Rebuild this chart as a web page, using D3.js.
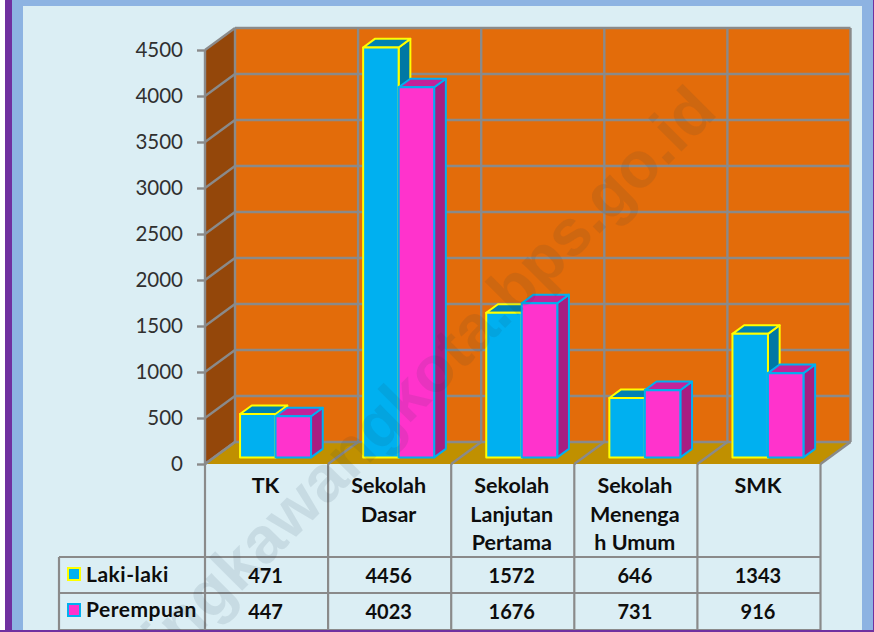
<!DOCTYPE html>
<html><head><meta charset="utf-8">
<style>html,body{margin:0;padding:0;background:#fff}svg{display:block}</style>
<script src="https://cdn.jsdelivr.net/npm/d3@7"></script>
</head><body>
<script>
const categories = ["TK", "Sekolah Dasar", "Sekolah Lanjutan Pertama", "Sekolah Menengah Umum", "SMK"];
const categoryLines = [["TK"], ["Sekolah", "Dasar"], ["Sekolah", "Lanjutan", "Pertama"], ["Sekolah", "Menenga", "h Umum"], ["SMK"]];
const seriesNames = ["Laki-laki", "Perempuan"];
const lakiLaki = [471, 4456, 1572, 646, 1343];
const perempuan = [447, 4023, 1676, 731, 916];
const yTicks = [0, 500, 1000, 1500, 2000, 2500, 3000, 3500, 4000, 4500];
const watermark = "singkawangkota.bps.go.id";

const W = 874, H = 632;
const frontL = 205, frontR = 820.5, base = 464, top45 = 50;
const depthX = 30, depthY = 22;
const GRID = "#8a8a8a", FONT = "Lato, Carlito, sans-serif";

const svg = d3.select("body").append("svg").attr("width", W).attr("height", H);

// frame
svg.append("rect").attr("width", W).attr("height", H).attr("fill", "#7030A0");
svg.append("rect").attr("x", 12).attr("y", 0).attr("width", 861).attr("height", 630).attr("fill", "#8DB3E2");
svg.append("rect").attr("x", 23).attr("y", 6).attr("width", 839).attr("height", 624).attr("fill", "#DBEEF4");
svg.append("rect").attr("x", 0).attr("y", 0).attr("width", 5).attr("height", H).attr("fill", "#fff");

const x = d3.scaleBand().domain(categories).range([frontL, frontR]);
const inner = d3.scaleBand().domain(seriesNames).range([0, 71]);
const y = d3.scaleLinear().domain([0, 4500]).range([base, top45]);
const P = (px, v, z) => [px + depthX * z, y(v) - depthY * z];
const poly = pts => d3.line()(pts) + "Z";

const plot = svg.append("g");
const yMax = 4500;
// walls
plot.append("path").attr("d", poly([P(frontL,0,0),P(frontL,yMax,0),P(frontL,yMax,1),P(frontL,0,1)])).attr("fill", "#94470A");
plot.append("path").attr("d", poly([P(frontL,0,1),P(frontL,yMax,1),P(frontR,yMax,1),P(frontR,0,1)])).attr("fill", "#E36C0A");
plot.append("path").attr("d", poly([P(frontL,0,0),P(frontL,0,1),P(frontR,0,1),P(frontR,0,0)])).attr("fill", "#C09000");

// gridlines
const gl = (a, b, w) => plot.append("path").attr("d", d3.line()([a, b])).attr("stroke", GRID).attr("stroke-width", w || 2.4).attr("fill", "none");
yTicks.forEach(t => {
  gl(P(frontL,t,0), P(frontL,t,1));
  gl(P(frontL,t,1), P(frontR,t,1));
});
const bounds = categories.map(c => x(c)).concat([frontR]);
bounds.forEach(b => {
  gl(P(b,0,0), P(b,0,1));
  gl(P(b,0,1), P(b,yMax,1));
});
gl(P(frontL,0,0), P(frontL,yMax,0));

// y axis
const axis = d3.axisLeft(y).tickValues(yTicks).tickSize(8).tickPadding(14).tickFormat(d3.format("d"));
const ag = svg.append("g").attr("transform", `translate(${frontL},0)`).call(axis);
ag.select(".domain").remove();
ag.selectAll("line").attr("stroke", GRID).attr("stroke-width", 2.4);
ag.selectAll("text").attr("font-family", FONT).attr("font-size", 20.5).attr("fill", "#303030");

// bars
const styles = [
  {front: "#00B0F0", side: "#0078A4", top: "#0082B2", stroke: "#FFFF00"},
  {front: "#FF33CC", side: "#A71E82", top: "#C2239A", stroke: "#00B0F0"}
];
const z0 = 0.3, z1 = 0.69;
const seriesValues = [lakiLaki, perempuan];
categories.forEach((c, ci) => {
  const gap = (x.bandwidth() - inner.range()[1]) / 2;
  seriesNames.forEach((s, si) => {
    const v = seriesValues[si][ci], st = styles[si];
    const l = x(c) + gap + inner(s), r = l + inner.bandwidth();
    const g = plot.append("g").attr("stroke", st.stroke).attr("stroke-width", 2).attr("stroke-linejoin", "round");
    g.append("path").attr("d", poly([P(r,0,z0),P(r,v,z0),P(r,v,z1),P(r,0,z1)])).attr("fill", st.side);
    g.append("path").attr("d", poly([P(l,v,z0),P(l,v,z1),P(r,v,z1),P(r,v,z0)])).attr("fill", st.top);
    g.append("path").attr("d", poly([P(l,0,z0),P(l,v,z0),P(r,v,z0),P(r,0,z0)])).attr("fill", st.front);
  });
});

// data table
const rowY = [base, 557, 593, 630], tableL = 59;
const tl = (x1, y1, x2, y2) => svg.append("line").attr("x1", x1).attr("y1", y1).attr("x2", x2).attr("y2", y2)
  .attr("stroke", GRID).attr("stroke-width", 2.2);
bounds.forEach(b => tl(b, base, b, 630));
tl(tableL, rowY[1], frontR, rowY[1]);
tl(tableL, rowY[2], frontR, rowY[2]);
tl(tableL, rowY[3], frontR, rowY[3]);
tl(tableL, rowY[1], tableL, 630);

const txt = (tx, ty, s, anchor, size, spacing) => svg.append("text").attr("x", tx).attr("y", ty).text(s)
  .attr("text-anchor", anchor || "middle").attr("font-family", FONT).attr("font-weight", 700)
  .attr("font-size", size || 20).attr("letter-spacing", spacing || 0).attr("fill", "#0d0d0d");
categories.forEach((c, ci) => {
  const cx = x(c) + x.bandwidth() / 2 - 1;
  categoryLines[ci].forEach((ln, i) => txt(cx, 493 + i * 28.5, ln, "middle", 21.5));
  txt(cx, 583, lakiLaki[ci]);
  txt(cx, 619, perempuan[ci]);
});
seriesNames.forEach((s, si) => {
  const ry = [568, 604][si];
  svg.append("rect").attr("x", 68).attr("y", ry).attr("width", 12).attr("height", 12)
    .attr("fill", styles[si].front).attr("stroke", styles[si].stroke).attr("stroke-width", 2);
  txt(86, [582, 617][si], s, "start", 21, 0.5);
});

// watermark
svg.append("text").text(watermark)
  .attr("transform", "translate(719,114) rotate(-45)")
  .attr("text-anchor", "end")
  .attr("font-family", "Liberation Sans, sans-serif").attr("font-size", 65).attr("font-weight", 700)
  .attr("fill", "#1a3a50").attr("fill-opacity", 0.1);

svg.append("rect").attr("x", 0).attr("y", 630).attr("width", W).attr("height", 2).attr("fill", "#7030A0");
</script>
</body></html>
